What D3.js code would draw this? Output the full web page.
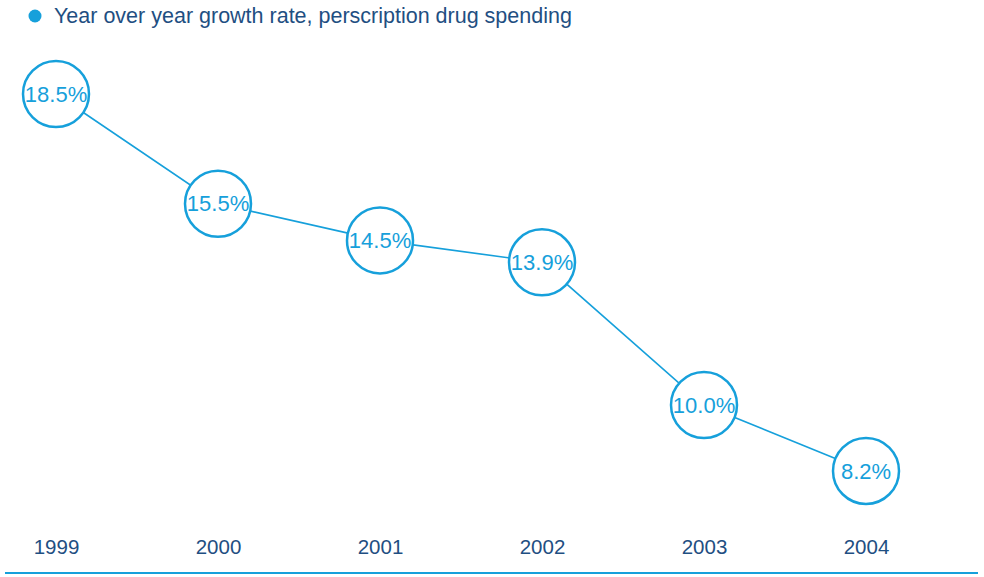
<!DOCTYPE html>
<html>
<head>
<meta charset="utf-8">
<script src="https://cdn.jsdelivr.net/npm/d3@7"></script>
<style>
  body { margin: 0; background: #fff; }
  text { font-family: "Liberation Sans", Arial, Helvetica, sans-serif; }
</style>
</head>
<body>
<div id="chart"></div>
<script>
const years = ['1999', '2000', '2001', '2002', '2003', '2004']
const growth = [18.5, 15.5, 14.5, 13.9, 10.0, 8.2]
const seriesName = 'Year over year growth rate, perscription drug spending'

const blue = '#16a0db'
const navy = '#1f4f82'

const svg = d3.select('#chart')
  .append('svg')
    .attr('width', 984)
    .attr('height', 577)

const x = d3.scalePoint()
  .domain(years)
  .range([56, 866])

const y = d3.scaleLinear()
  .domain([0, 18.5])
  .range([771, 94])

// legend
svg.append('circle')
  .attr('cx', 35)
  .attr('cy', 16)
  .attr('r', 6.5)
  .style('fill', blue)

svg.append('text')
  .attr('x', 54)
  .attr('y', 23)
  .style('font-size', '21.5px')
  .style('fill', navy)
  .text(seriesName)

// x axis labels + baseline
const xAxis = d3.axisBottom(x).tickSize(0).tickPadding(0)
const axisG = svg.append('g')
  .attr('transform', 'translate(0, 539)')
  .call(xAxis)
axisG.select('.domain').remove()
axisG.selectAll('text')
  .style('font-family', '"Liberation Sans", Arial, sans-serif')
  .style('font-size', '20.5px')
  .style('fill', navy)

svg.append('line')
  .attr('x1', 5)
  .attr('x2', 978)
  .attr('y1', 573)
  .attr('y2', 573)
  .style('stroke', blue)
  .style('stroke-width', 2)

const data = years.map((yr, i) => ({ year: yr, value: growth[i] }))

svg.append('path')
  .datum(data)
  .attr('d', d3.line().x(d => x(d.year)).y(d => y(d.value)))
  .style('fill', 'none')
  .style('stroke', blue)
  .style('stroke-width', 1.6)

const nodes = svg.selectAll('.node')
  .data(data)
  .join('g')
    .attr('class', 'node')
    .attr('transform', d => `translate(${x(d.year)}, ${y(d.value)})`)

nodes.append('circle')
  .attr('r', 33)
  .style('fill', '#fff')
  .style('stroke', blue)
  .style('stroke-width', 2.5)

nodes.append('text')
  .attr('text-anchor', 'middle')
  .attr('dy', '0.35em')
  .style('font-size', '22px')
  .style('fill', blue)
  .text(d => d.value.toFixed(1) + '%')
</script>
</body>
</html>
